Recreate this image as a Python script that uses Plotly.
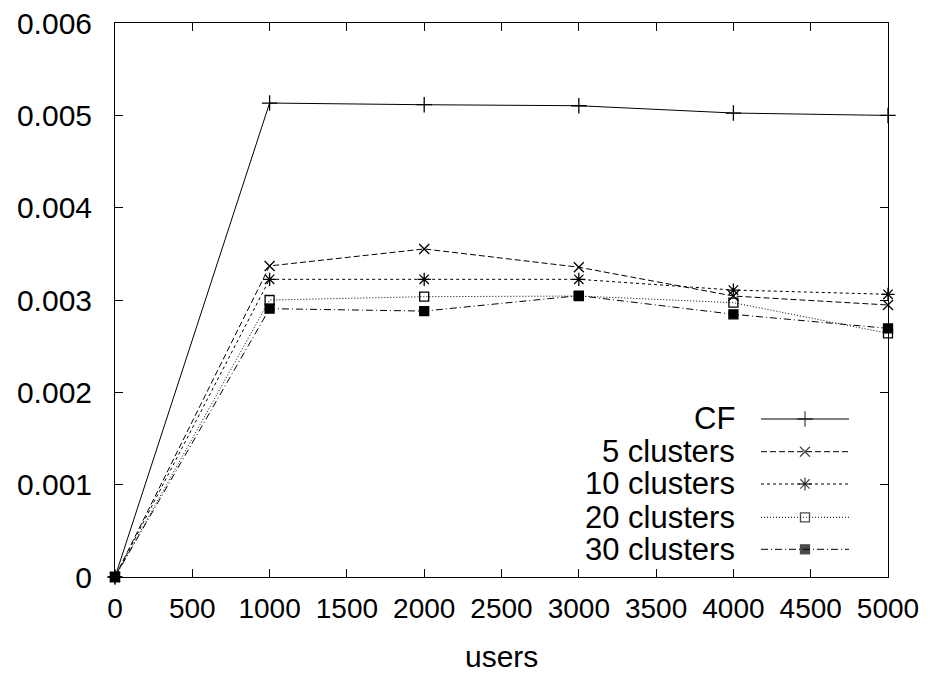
import plotly.graph_objects as go

users = [0, 1000, 2000, 3000, 4000, 5000]
cf = [0.0, 0.005133, 0.005115, 0.005104, 0.005025, 0.004999]
c5 = [0.0, 0.003369, 0.003553, 0.003355, 0.003043, 0.002946]
c10 = [0.0, 0.003224, 0.003224, 0.003224, 0.003108, 0.003062]
c20 = [0.0, 0.003000, 0.003036, 0.003043, 0.002971, 0.002639]
c30 = [0.0, 0.002906, 0.002880, 0.003047, 0.002845, 0.002693]

series_names = ["CF", "5 clusters", "10 clusters", "20 clusters", "30 clusters"]
series_vals = [cf, c5, c10, c20, c30]
x_ticks = [0, 500, 1000, 1500, 2000, 2500, 3000, 3500, 4000, 4500, 5000]
y_ticks = [0, 0.001, 0.002, 0.003, 0.004, 0.005, 0.006]
y_tick_labels = ["0", "0.001", "0.002", "0.003", "0.004", "0.005", "0.006"]

styles = [
    dict(dash="solid", symbol="cross-thin-open", size=11),
    dict(dash="6px,3px", symbol="x-thin-open", size=10),
    dict(dash="3px,3px", symbol="asterisk-open", size=11),
    dict(dash="1px,2px", symbol="square-open", size=9),
    dict(dash="7px,3px,1px,3px", symbol="square", size=9),
]

FONT = "Liberation Sans, Arial, sans-serif"
fig = go.Figure()

for name, vals, st in zip(series_names, series_vals, styles):
    fig.add_trace(go.Scatter(
        x=users, y=vals, mode="lines+markers", name=name,
        line=dict(color="black", width=1, dash=st["dash"]),
        marker=dict(symbol=st["symbol"], size=st["size"], color="black",
                    line=dict(color="black", width=1.3)),
        showlegend=False, cliponaxis=False,
    ))

# manual gnuplot-style legend (text right, sample on the right)
leg_y = [0.2852, 0.2262, 0.1679, 0.1078, 0.0500]
leg_x0, leg_xm, leg_x1, leg_tx = 0.8357, 0.8926, 0.9496, 0.8047
for name, st, ly in zip(series_names, styles, leg_y):
    fig.add_trace(go.Scatter(
        x=[leg_x0, leg_xm, leg_x1], y=[ly, ly, ly], mode="lines+markers",
        xaxis="x2", yaxis="y2",
        line=dict(color="black", width=1, dash=st["dash"]),
        marker=dict(symbol=st["symbol"], size=[0, st["size"], 0], color="black",
                    line=dict(color="black", width=1.3)),
        showlegend=False, hoverinfo="skip",
    ))
    fig.add_annotation(x=leg_tx, y=ly, xref="paper", yref="paper", text=name,
                       showarrow=False, xanchor="right", yanchor="middle",
                       font=dict(family=FONT, size=31, color="black"))

fig.add_annotation(x=0.5, y=-0.1437, xref="paper", yref="paper", text="users",
                   showarrow=False, xanchor="center", yanchor="middle",
                   font=dict(family=FONT, size=30, color="black"))

axis_common = dict(showgrid=False, zeroline=False, showline=True, linecolor="black",
                   linewidth=1, mirror="allticks", ticks="inside", ticklen=8,
                   tickwidth=1, tickcolor="black", automargin=False)

fig.update_layout(
    width=930, height=675,
    margin=dict(l=115, r=42, t=23, b=98),
    paper_bgcolor="white", plot_bgcolor="white",
    xaxis=dict(range=[0, 5000], tickvals=x_ticks, ticktext=[str(v) for v in x_ticks],
               tickfont=dict(family=FONT, size=28, color="black"),
               ticklabelstandoff=6, **axis_common),
    yaxis=dict(range=[0, 0.006], tickvals=y_ticks, ticktext=y_tick_labels,
               tickfont=dict(family=FONT, size=30, color="black"),
               ticklabelstandoff=16, **axis_common),
    xaxis2=dict(range=[0, 1], overlaying="x", visible=False, domain=[0, 1]),
    yaxis2=dict(range=[0, 1], overlaying="y", visible=False),
    showlegend=False,
)

fig.write_html("out.html")
